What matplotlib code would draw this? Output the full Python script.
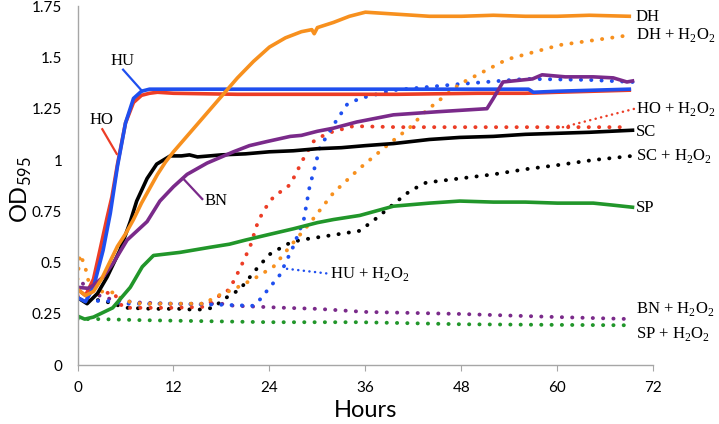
import matplotlib
matplotlib.use("Agg")
import matplotlib.pyplot as plt

plt.rcParams["font.family"] = ["Lato", "DejaVu Sans"]
plt.rcParams["mathtext.fontset"] = "custom"
plt.rcParams["mathtext.rm"] = "Liberation Serif"
plt.rcParams["mathtext.sf"] = "Lato"

# ---- data (hours, OD595) ----
dh_x = [0, 1, 2, 3, 4, 5, 6, 7, 8, 9, 10, 11, 12, 14, 16, 18, 20, 22, 24, 26, 28, 29.3, 29.6, 30, 32, 34, 36, 38, 40, 44, 48, 52, 56, 60, 64, 69]
dh_y = [0.37, 0.34, 0.36, 0.42, 0.5, 0.58, 0.64, 0.71, 0.79, 0.86, 0.93, 0.99, 1.04, 1.13, 1.22, 1.31, 1.40, 1.48, 1.55, 1.595, 1.625, 1.635, 1.615, 1.645, 1.67, 1.7, 1.72, 1.715, 1.71, 1.70, 1.70, 1.705, 1.70, 1.70, 1.705, 1.70]

dhp_x = [0, 0.3, 0.9, 1.3, 1.8, 3.6, 4.7, 5.7, 8, 12, 16, 17, 19.5, 22, 24.5, 26.6, 29, 32, 35.3, 39, 41.6, 43.6, 47.8, 53.7, 60.3, 69.4]
dhp_y = [0.42, 0.54, 0.49, 0.42, 0.37, 0.355, 0.355, 0.315, 0.30, 0.30, 0.30, 0.33, 0.37, 0.42, 0.48, 0.58, 0.69, 0.84, 0.96, 1.08, 1.16, 1.24, 1.37, 1.49, 1.56, 1.61]

ho_x = [0, 1, 2, 2.8, 3.7, 4.3, 5, 6, 7, 8, 9, 10, 12, 20, 30, 40, 50, 56, 60, 69]
ho_y = [0.37, 0.34, 0.42, 0.56, 0.72, 0.82, 0.98, 1.18, 1.28, 1.315, 1.325, 1.33, 1.325, 1.32, 1.32, 1.32, 1.325, 1.325, 1.33, 1.34]

hop_x = [0, 1, 2.8, 4.5, 5.7, 8, 12, 16, 17, 19, 20.3, 21.6, 22.4, 23.2, 24.5, 26.6, 28.3, 29.5, 31.2, 34.5, 40, 50, 60, 69]
hop_y = [0.34, 0.33, 0.35, 0.355, 0.28, 0.28, 0.28, 0.285, 0.32, 0.37, 0.47, 0.58, 0.68, 0.75, 0.82, 0.88, 1.01, 1.09, 1.13, 1.165, 1.16, 1.16, 1.16, 1.16]

hu_x = [0, 1, 2, 3.2, 4.1, 5, 6, 7, 8, 9, 10, 12, 20, 30, 40, 50, 56.4, 57, 60, 69]
hu_y = [0.33, 0.31, 0.38, 0.56, 0.74, 0.97, 1.18, 1.3, 1.335, 1.345, 1.345, 1.345, 1.345, 1.345, 1.345, 1.345, 1.345, 1.33, 1.335, 1.345]

hup_x = [0, 1, 3.2, 4.4, 6, 12, 18, 22, 22.8, 25.3, 27, 28.3, 29, 30.3, 32, 33.7, 35.3, 39.5, 47.8, 56, 64, 69.4]
hup_y = [0.32, 0.31, 0.315, 0.31, 0.30, 0.30, 0.295, 0.29, 0.32, 0.44, 0.58, 0.71, 0.865, 1.06, 1.17, 1.27, 1.30, 1.34, 1.37, 1.395, 1.39, 1.38]

sc_x = [0, 1.2, 2.5, 3.7, 5.3, 6.6, 7.4, 8.7, 9.9, 11.6, 13, 14, 15, 18, 21, 24, 27, 30, 33, 36, 39.5, 44, 47.8, 52, 56, 60, 64, 69.4]
sc_y = [0.33, 0.30, 0.35, 0.43, 0.56, 0.70, 0.80, 0.91, 0.98, 1.02, 1.02, 1.025, 1.015, 1.025, 1.03, 1.04, 1.045, 1.055, 1.06, 1.07, 1.08, 1.10, 1.11, 1.115, 1.125, 1.13, 1.135, 1.145]

scp_x = [0, 1, 3, 6.1, 9.5, 12.8, 14.9, 17, 18.2, 20.3, 22.4, 24, 26.2, 27.8, 32, 35.3, 37.5, 39.5, 41.6, 43.6, 47.8, 52, 56, 60, 64.5, 69.4]
scp_y = [0.33, 0.32, 0.317, 0.28, 0.275, 0.275, 0.27, 0.28, 0.32, 0.37, 0.47, 0.54, 0.59, 0.61, 0.635, 0.655, 0.72, 0.785, 0.85, 0.89, 0.91, 0.93, 0.955, 0.975, 1.0, 1.02]

bn_x = [0, 1.3, 2, 3.2, 4.5, 6.2, 8.7, 10.3, 12, 13.7, 16.2, 19.5, 21.5, 23.7, 26.6, 28, 30, 32, 34.9, 39.5, 45, 51.2, 52, 53.2, 56.9, 58.1, 61, 64.5, 67, 68.7, 69.4]
bn_y = [0.38, 0.375, 0.39, 0.43, 0.50, 0.61, 0.70, 0.80, 0.87, 0.93, 0.985, 1.04, 1.07, 1.09, 1.115, 1.12, 1.14, 1.155, 1.185, 1.22, 1.235, 1.25, 1.30, 1.38, 1.395, 1.415, 1.405, 1.405, 1.40, 1.38, 1.385]

bnp_x = [0, 0.4, 1.3, 3.2, 5.3, 8, 12, 18, 19.5, 26, 30, 36, 48, 60, 69.4]
bnp_y = [0.38, 0.41, 0.37, 0.33, 0.315, 0.305, 0.30, 0.30, 0.29, 0.28, 0.275, 0.26, 0.25, 0.235, 0.225]

sp_x = [0, 0.9, 2, 4.4, 6.6, 8.1, 9.5, 12.8, 16.6, 19, 21, 23.7, 27, 30, 32, 35.3, 39.5, 44, 47.8, 52, 56, 60, 64.5, 67, 69.4]
sp_y = [0.24, 0.225, 0.235, 0.28, 0.38, 0.48, 0.535, 0.55, 0.575, 0.59, 0.61, 0.635, 0.665, 0.695, 0.71, 0.73, 0.775, 0.79, 0.80, 0.795, 0.795, 0.79, 0.79, 0.78, 0.77]

spp_x = [0, 2.8, 8, 16, 24, 35.3, 48, 60, 69.4]
spp_y = [0.225, 0.225, 0.22, 0.215, 0.21, 0.21, 0.2, 0.197, 0.195]

orange = "#F7901E"
red = "#EC3D26"
blue = "#1F4FEF"
purple = "#7A2A8A"
green = "#21962A"
black = "#000000"

fig = plt.figure(figsize=(7.19, 4.24), dpi=100)
ax = fig.add_axes([0.1078, 0.1384, 0.8008, 0.8474])

dot = dict(linestyle=(0, (0.05, 2.6)), linewidth=2.8, dash_capstyle="round")
solid = dict(linestyle="-", linewidth=2.6, solid_joinstyle="round")

ax.plot(spp_x, spp_y, color=green, **dot)
ax.plot(bnp_x, bnp_y, color=purple, **dot)
ax.plot(scp_x, scp_y, color=black, **dot)
ax.plot(hop_x, hop_y, color=red, **dot)
ax.plot(hup_x, hup_y, color=blue, **dot)
ax.plot(dhp_x, dhp_y, color=orange, **dot)

ax.plot(sp_x, sp_y, color=green, **solid)
ax.plot(sc_x, sc_y, color=black, **solid)
ax.plot(ho_x, ho_y, color=red, **solid)
ax.plot(hu_x, hu_y, color=blue, **solid)
ax.plot(bn_x, bn_y, color=purple, **solid)
ax.plot(dh_x, dh_y, color=orange, **solid)

ax.set_xlim(0, 72)
ax.set_ylim(0, 1.75)
ax.set_xticks([0, 12, 24, 36, 48, 60, 72])
ax.set_yticks([0, 0.25, 0.5, 0.75, 1, 1.25, 1.5, 1.75])
ax.set_yticklabels(["0", "0.25", "0.5", "0.75", "1", "1.25", "1.5", "1.75"])
for s in ["top", "right"]:
    ax.spines[s].set_visible(False)
for s in ["left", "bottom"]:
    ax.spines[s].set_color("#a6a6a6")
    ax.spines[s].set_linewidth(1.0)
ax.tick_params(axis="x", length=4, color="#a6a6a6", labelsize=11, pad=7)
ax.tick_params(axis="y", length=0, labelsize=11, pad=11)
ax.set_xlabel("Hours", fontsize=17, labelpad=4)
fig.text(21 / 719, 1 - 190 / 424, r"OD$_{\mathsf{595}}$", fontsize=17,
         rotation=90, ha="center", va="center")

# series labels (serif, Times-like)
lab = dict(fontsize=12, family="Liberation Serif", va="center", ha="left")
ax.text(69.8, 1.697, "DH", **lab)
ax.text(69.8, 1.61, r"DH + H$_2$O$_2$", **lab)
ax.text(69.8, 1.25, r"HO + H$_2$O$_2$", **lab)
ax.text(69.8, 1.135, "SC", **lab)
ax.text(69.8, 1.02, r"SC + H$_2$O$_2$", **lab)
ax.text(69.8, 0.767, "SP", **lab)
ax.text(69.8, 0.273, r"BN + H$_2$O$_2$", **lab)
ax.text(69.8, 0.152, r"SP + H$_2$O$_2$", **lab)
ax.text(31.6, 0.447, r"HU + H$_2$O$_2$", **lab)
ax.text(5.6, 1.48, "HU", fontsize=12, family="Liberation Serif", ha="center", va="center")
ax.text(3.0, 1.195, "HO", fontsize=12, family="Liberation Serif", ha="center", va="center")
ax.text(17.3, 0.80, "BN", fontsize=12, family="Liberation Serif", ha="center", va="center")

# leader lines
ax.plot([5.7, 8.1], [1.44, 1.335], color=blue, linewidth=1.6)
ax.plot([3.1, 4.9], [1.15, 1.03], color=red, linewidth=1.6)
ax.plot([15.6, 13.2], [0.81, 0.91], color=purple, linewidth=1.6)
fine = dict(linestyle=(0, (0.05, 2.2)), linewidth=1.8, dash_capstyle="round")
ax.plot([26.2, 31.3], [0.47, 0.447], color=blue, **fine)
ax.plot([60.7, 69.7], [1.16, 1.25], color=red, **fine)

fig.savefig("out.png", dpi=100)
